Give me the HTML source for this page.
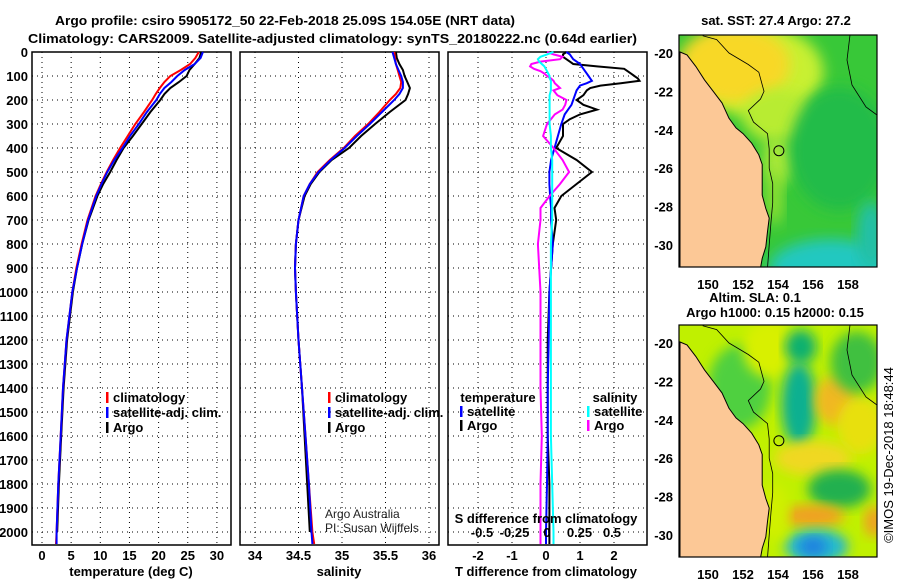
<!DOCTYPE html>
<html><head><meta charset="utf-8"><style>
html,body{margin:0;padding:0;background:#fff}
svg{display:block;font-family:"Liberation Sans",sans-serif}
.b{font-weight:bold;font-size:13px}
</style></head><body>
<svg id="c" width="900" height="580" viewBox="0 0 900 580" xmlns="http://www.w3.org/2000/svg">
<defs>
<filter id="blur" x="-20%" y="-20%" width="140%" height="140%"><feGaussianBlur stdDeviation="7"/></filter>
<filter id="blur2" x="-20%" y="-20%" width="140%" height="140%"><feGaussianBlur stdDeviation="6"/></filter>
<clipPath id="clipTop"><rect x="679" y="35" width="198" height="232"/></clipPath>
<clipPath id="clipBot"><rect x="679" y="325" width="198" height="232"/></clipPath>
</defs>
<text class="b" x="55" y="25" font-size="15" textLength="460" lengthAdjust="spacingAndGlyphs">Argo profile: csiro 5905172_50 22-Feb-2018 25.09S 154.05E (NRT data)</text>
<text class="b" x="28" y="43" font-size="15" textLength="609" lengthAdjust="spacingAndGlyphs">Climatology: CARS2009. Satellite-adjusted climatology: synTS_20180222.nc (0.64d earlier)</text>
<g id="p1"></g>
<g id="p2"></g>
<g id="p3"></g>
<g id="m1"></g>
<g id="m2"></g>
<text class="b" x="776" y="25" text-anchor="middle">sat. SST: 27.4 Argo: 27.2</text>
<text class="b" x="755" y="302" text-anchor="middle">Altim. SLA: 0.1</text>
<text class="b" x="775" y="317" text-anchor="middle">Argo h1000: 0.15 h2000: 0.15</text>
<text x="893" y="455" font-size="13" text-anchor="middle" transform="rotate(-90 893 455)">©IMOS 19-Dec-2018 18:48:44</text>
<text x="325" y="518" font-size="12" fill="#222">Argo Australia</text>
<text x="325" y="532" font-size="12" fill="#222">PI: Susan Wijffels</text>
</svg>
<script>
// ---- profile data ----
const depths = [0,25,50,75,100,125,150,175,200,250,300,350,400,450,500,550,600,700,800,900,1000,1200,1400,1600,1800,2000,2050];
const argoDepths = [0,25,50,75,100,125,150,175,200,250,300,350,400,450,500,550,600,700,800,900,1000,1200,1400,1600,1800,2000];
const argoTemp = [27.3,27.0,26.2,25.3,24.8,23.5,22.0,21.0,20.3,18.6,17.1,15.6,14.0,12.8,11.7,10.5,9.5,8.0,6.9,6.0,5.3,4.3,3.7,3.3,2.9,2.6];
const climTemp = [26.9,26.3,25.4,23.8,22.0,21.0,20.2,19.5,18.9,17.5,16.0,14.7,13.4,12.2,11.1,10.1,9.2,7.8,6.8,5.9,5.2,4.2,3.6,3.2,2.8,2.5,2.4];
const satTemp = [27.6,27.2,26.2,24.5,23.2,22.2,21.0,20.2,19.6,18.0,16.6,15.1,13.8,12.4,11.2,10.2,9.3,7.9,6.9,6.0,5.2,4.2,3.6,3.2,2.8,2.5,2.5];
const argoSal = [35.62,35.63,35.66,35.70,35.72,35.75,35.78,35.76,35.73,35.55,35.38,35.22,35.08,34.88,34.74,34.64,34.57,34.50,34.47,34.46,34.47,34.50,34.54,34.57,34.60,34.63];
const climSal = [35.60,35.61,35.62,35.64,35.66,35.68,35.67,35.62,35.55,35.43,35.30,35.15,35.02,34.86,34.72,34.63,34.56,34.50,34.47,34.46,34.47,34.50,34.54,34.58,34.62,34.66,34.68];
const satSal = [35.58,35.60,35.62,35.65,35.68,35.70,35.70,35.66,35.60,35.46,35.32,35.17,35.03,34.87,34.73,34.63,34.56,34.50,34.47,34.46,34.47,34.50,34.54,34.58,34.62,34.65,34.66];
const diffDepths = [0,10,20,30,40,50,60,70,80,90,100,110,120,130,140,150,160,180,200,220,240,260,280,300,350,400,450,500,550,600,650,700,800,900,1000,1200,1400,1600,1800,2000,2050];
const argoDT = [0.6,0.5,0.5,0.6,0.7,0.8,1.5,2.3,2.4,2.5,2.6,2.7,2.75,2.2,1.6,1.3,1.2,1.1,0.9,1.1,1.5,1.0,0.7,0.5,0.5,0.3,0.9,1.35,0.9,0.45,0.25,0.3,0.2,0.15,0.1,0.05,0.05,0.05,0.1,0.1,0.1];
const satDT = [0.6,0.7,0.75,0.8,0.9,1.0,1.05,1.1,1.15,1.2,1.25,1.3,1.35,1.2,1.0,0.95,0.9,0.85,0.8,0.75,0.65,0.55,0.5,0.45,0.35,0.25,0.15,0.1,0.1,0.12,0.15,0.15,0.2,0.15,0.1,0.08,0.05,0.05,0.03,0.0,0.0];
const argoDS = [0.0,0.05,0.12,0.1,-0.05,-0.12,-0.13,-0.1,-0.05,-0.02,0.0,0.03,0.05,0.06,0.08,0.1,0.05,0.08,0.15,0.14,0.12,0.06,0.03,0.0,-0.03,0.05,0.12,0.17,0.1,0.02,-0.05,-0.05,-0.07,-0.06,-0.05,-0.05,-0.05,-0.04,-0.05,-0.05,-0.05];
const satDS = [0.05,0.0,-0.05,-0.07,-0.06,-0.04,-0.02,-0.01,0.0,0.01,0.02,0.02,0.03,0.03,0.03,0.03,0.03,0.02,0.02,0.02,0.02,0.02,0.02,0.02,0.03,0.03,0.04,0.04,0.04,0.04,0.04,0.04,0.03,0.03,0.03,0.03,0.03,0.03,0.04,0.05,0.05];
const depthTicks = [0,100,200,300,400,500,600,700,800,900,1000,1100,1200,1300,1400,1500,1600,1700,1800,1900,2000];
const tempTicks = [0,5,10,15,20,25,30];
const salTicks = [34,34.5,35,35.5,36];
const dtTicks = [-2,-1,0,1,2];
const dsTicks = [-0.5,-0.25,0,0.25,0.5];

const NS='http://www.w3.org/2000/svg';
function mk(tag, attrs, parent){const e=document.createElementNS(NS,tag);for(const k in attrs)e.setAttribute(k,attrs[k]);parent.appendChild(e);return e;}
const yD = d => 52 + d*0.24;
const xT = t => 42 + t*5.83;
const xS = s => 255 + (s-34)*87;
const xDT = t => 546 + t*34;
const xDS = s => 547 + s*130;
const TOP=52, BOT=545;

function frame(g, x0, x1, gridXs){
  depthTicks.forEach(d=>{
    const l=mk('line',{x1:x0,x2:x1,y1:yD(d),y2:yD(d),stroke:'#000','stroke-width':1,'stroke-dasharray':'1,4'},g);
    
    
  });
  gridXs.forEach(x=>{
    const l=mk('line',{x1:x,x2:x,y1:TOP,y2:BOT,stroke:'#000','stroke-width':1,'stroke-dasharray':'1,4'},g);
    
    
  });
  const r=mk('rect',{x:x0,y:TOP,width:x1-x0,height:BOT-TOP,fill:'none',stroke:'#000','stroke-width':1.5},g);
  
  
}
function line(g, xs, ds, fx, col, name){
  const pts=xs.map((v,i)=>fx(v).toFixed(1)+','+yD(ds[i]).toFixed(1)).join(' ');
  const p=mk('polyline',{points:pts,fill:'none',stroke:col,'stroke-width':2,'stroke-linejoin':'miter'},g);
  
  
}
function xlabels(g, ticks, fx, fmt, y){
  ticks.forEach(t=>{
    const tx=mk('text',{x:fx(t),y:y,'text-anchor':'middle','class':'b'},g);
    tx.textContent=fmt(t);
    
    
  });
}
function legendItem(g,x,y,col,label,name){
  const r=mk('rect',{x:x,y:y-10,width:2.5,height:11,fill:col},g);
  
  
  const t=mk('text',{x:x+7,y:y,'class':'b','font-size':'12'},g);
  t.textContent=label;
  
  
}
function title(g,x,y,txt,name){
  const t=mk('text',{x:x,y:y,'text-anchor':'middle','class':'b'},g);
  t.textContent=txt;
  
  
}

// Panel 1
const p1=document.getElementById('p1');
frame(p1,32,231,tempTicks.map(xT));
depthTicks.forEach(d=>{
  const t=mk('text',{x:28,y:yD(d)+5,'text-anchor':'end','class':'b'},p1);
  t.textContent=d;
  
  
});
line(p1,argoTemp,argoDepths,xT,'#000','argo-temperature-line');
line(p1,climTemp,depths,xT,'#f00','climatology-temperature-line');
line(p1,satTemp,depths,xT,'#00f','satellite-temperature-line');
xlabels(p1,tempTicks,xT,t=>t,560);
title(p1,131,576,'temperature (deg C)','temperature-axis-title');
legendItem(p1,106,402,'#f00','climatology','legend-climatology');
legendItem(p1,106,417,'#00f','satellite-adj. clim.','legend-satellite');
legendItem(p1,106,432,'#000','Argo','legend-argo');

// Panel 2
const p2=document.getElementById('p2');
frame(p2,240,439,salTicks.map(xS));
line(p2,argoSal,argoDepths,xS,'#000','argo-salinity-line');
line(p2,climSal,depths,xS,'#f00','climatology-salinity-line');
line(p2,satSal,depths,xS,'#00f','satellite-salinity-line');
xlabels(p2,salTicks,xS,t=>t,560);
title(p2,339,576,'salinity','salinity-axis-title');
legendItem(p2,328,402,'#f00','climatology','legend-climatology-s');
legendItem(p2,328,417,'#00f','satellite-adj. clim.','legend-satellite-s');
legendItem(p2,328,432,'#000','Argo','legend-argo-s');

// Panel 3
const p3=document.getElementById('p3');
frame(p3,448,647,dtTicks.map(xDT));
line(p3,argoDT,diffDepths,xDT,'#000','argo-temperature-diff-line');
line(p3,satDT,diffDepths,xDT,'#00f','satellite-temperature-diff-line');
line(p3,argoDS,diffDepths,xDS,'#f0f','argo-salinity-diff-line');
line(p3,satDS,diffDepths,xDS,'#0ff','satellite-salinity-diff-line');
xlabels(p3,dtTicks,xDT,t=>t,560);
title(p3,546,576,'T difference from climatology','t-diff-axis-title');
xlabels(p3,dsTicks,xDS,t=>t,537);
title(p3,546,523,'S difference from climatology','s-diff-axis-title');
(function(){
  const t1=mk('text',{x:498,y:402,'text-anchor':'middle','class':'b','font-size':'12'},p3);t1.textContent='temperature';
  
  
  const t2=mk('text',{x:615,y:402,'text-anchor':'middle','class':'b','font-size':'12'},p3);t2.textContent='salinity';
  
  
})();
legendItem(p3,460,416,'#00f','satellite','legend-t-satellite');
legendItem(p3,460,430,'#000','Argo','legend-t-argo');
legendItem(p3,587,416,'#0ff','satellite','legend-s-satellite');
legendItem(p3,587,430,'#f0f','Argo','legend-s-argo');

// ---- maps ----
const lonTicks=[150,152,154,156,158];
const latTicks=[-20,-22,-24,-26,-28,-30];
const coastLon=[148.4,148.8,149.3,149.8,150.3,150.8,151.2,151.6,152.0,152.5,152.9,153.1,153.1,153.1,153.3,153.5,153.4,153.3,153.1,153.0,148.4];
const coastLat=[-19.95,-20.1,-20.7,-21.4,-22.0,-22.6,-23.4,-23.9,-24.2,-24.7,-25.3,-25.8,-26.6,-27.4,-28.1,-28.6,-29.3,-30.1,-30.7,-31.2,-31.2];
const isoLon=[149.7,150.5,151.2,152.3,152.9,153.2,153.0,152.3,152.6,153.4,153.5,153.5,153.7,153.7,153.6,153.5,153.4];
const isoLat=[-19.1,-19.3,-20.0,-20.6,-21.0,-22.0,-22.4,-23.0,-23.6,-24.2,-25.0,-26.0,-26.8,-27.8,-28.8,-30.0,-31.2];
const floatLon=154.05, floatLat=-25.09;

function mapPanel(g, top, clip, blobs, base){
  const lx=l=>680+(l-148.4)*17.5;
  const ly=l=>top+18+(-20-l)*19.2;
  const bg=mk('rect',{x:679,y:top,width:198,height:232,fill:base},g);
  
  
  const cg=mk('g',{'clip-path':'url(#'+clip+')'},g);
  blobs.forEach(b=>{
    const e=mk('ellipse',{cx:lx(b[0]),cy:ly(b[1]),rx:b[2]*17.5,ry:b[3]*19.2,fill:b[4],filter:'url(#'+(b[5]||'blur')+')'},cg);
    
    
  });
  const land=mk('polygon',{points:coastLon.map((l,i)=>lx(l).toFixed(1)+','+ly(coastLat[i]).toFixed(1)).join(' '),fill:'#fcc896',stroke:'#000','stroke-width':1},cg);
  
  
  const iso=mk('polyline',{points:isoLon.map((l,i)=>lx(l).toFixed(1)+','+ly(isoLat[i]).toFixed(1)).join(' '),fill:'none',stroke:'#000','stroke-width':0.8},cg);
  
  
  const iso2=mk('polyline',{points:'850,'+top+' 847,'+(top+25)+' 852,'+(top+50)+' 866,'+(top+72)+' 877,'+(top+80),fill:'none',stroke:'#000','stroke-width':0.8},cg);
  
  
  const c=mk('circle',{cx:lx(floatLon),cy:ly(floatLat),r:5,fill:'none',stroke:'#000','stroke-width':1},g);
  
  
  const fr=mk('rect',{x:679,y:top,width:198,height:232,fill:'none',stroke:'#000','stroke-width':1.2},g);
  
  
  lonTicks.forEach(l=>{
    const t=mk('text',{x:lx(l),y:top+254,'text-anchor':'middle','class':'b'},g);t.textContent=l;
    
    
  });
  latTicks.forEach(l=>{
    const t=mk('text',{x:673,y:ly(l)+5,'text-anchor':'end','class':'b'},g);t.textContent=l;
    
    
  });
}
mapPanel(document.getElementById('m1'),35,'clipTop',[
  [153.0,-21.0,3.6,2.4,'#c8f030'],
  [151.5,-20.6,3.2,2.0,'#f8d828'],
  [154.0,-23.3,2.0,1.4,'#b8ec30'],
  [154.0,-25.6,0.9,1.3,'#a8e838'],
  [153.8,-27.5,0.5,1.5,'#90e030'],
  [157.5,-25.0,2.8,3.2,'#20bc48'],
  [157.0,-31.2,3.5,1.5,'#20c8c0'],
  [159.3,-29.5,0.8,1.8,'#20c0a8']
],'#38c838');
mapPanel(document.getElementById('m2'),325,'clipBot',[
  [151.8,-22.3,1.8,2.2,'#50d040','blur2'],
  [153.5,-20.3,1.5,1.5,'#d8f000','blur2'],
  [155.3,-20.2,0.9,0.9,'#10b070','blur2'],
  [155.2,-23.2,1.0,2.2,'#10b090','blur2'],
  [157.3,-23.0,1.2,1.3,'#f0b820','blur2'],
  [158.7,-24.3,1.3,1.5,'#e8e010','blur2'],
  [156.0,-26.0,2.2,0.9,'#f0d820','blur2'],
  [157.5,-27.6,1.8,1.0,'#20b050','blur2'],
  [158.5,-21.0,1.5,1.6,'#40c040','blur2'],
  [156.0,-29.0,1.8,0.6,'#f0a020','blur2'],
  [159.5,-29.3,0.6,0.8,'#f0a020','blur2'],
  [156.2,-30.6,1.8,0.9,'#20b8d0','blur2'],
  [156.0,-30.6,0.8,0.5,'#2080e0','blur2'],
  [153.8,-28.8,0.8,1.5,'#d0f000','blur2']
],'#c0f000');
</script>
</body></html>
